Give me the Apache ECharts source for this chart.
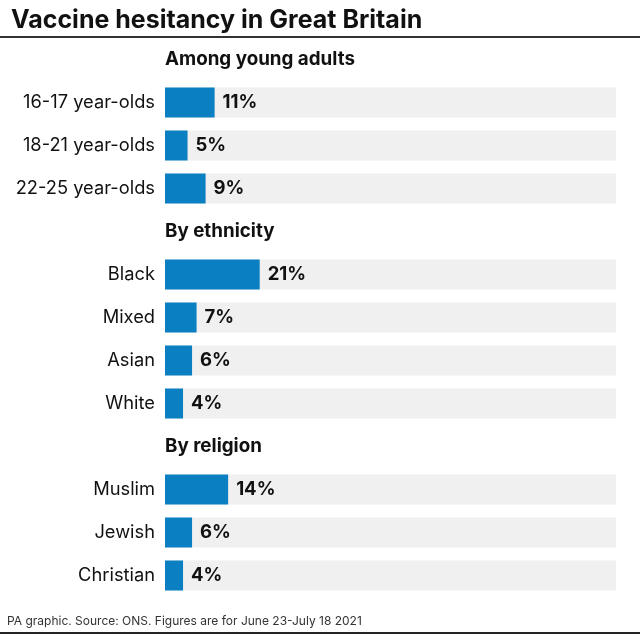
<!DOCTYPE html>
<html><head><meta charset="utf-8">
<script src="https://cdn.jsdelivr.net/npm/echarts@6/dist/echarts.min.js"></script>
<style>html,body{margin:0;padding:0;background:#fff}#c{width:640px;height:640px}</style>
</head><body><div id="c"></div>
<script>
const categories = ['Among young adults','16-17 year-olds','18-21 year-olds','22-25 year-olds','By ethnicity','Black','Mixed','Asian','White','By religion','Muslim','Jewish','Christian'];
const isHeader = [true,false,false,false,true,false,false,false,false,true,false,false,false];
const values = [null,11,5,9,null,21,7,6,4,null,14,6,4];
const axisMax = 100;
const FONT = 'Inter, "Liberation Sans", sans-serif';

const bgData = categories.map((c,i)=> isHeader[i] ? null : axisMax);
const headerData = categories.map((c,i)=> isHeader[i] ? 0 : null);

const chart = echarts.init(document.getElementById('c'));
chart.setOption({
  animation:false,
  backgroundColor:'#fff',
  title:{text:'Vaccine hesitancy in Great Britain',left:6,top:3,
    textStyle:{fontFamily:FONT,fontSize:25,fontWeight:'bold',color:'#111'}},
  grid:{left:165,right:24,top:38,bottom:43},
  xAxis:{type:'value',min:0,max:axisMax,show:false},
  yAxis:{type:'category',data:categories,inverse:true,
    axisLine:{show:false},axisTick:{show:false},
    axisLabel:{margin:10,fontFamily:FONT,fontSize:18.3,color:'#111',
      formatter:(v,i)=> isHeader[i] ? '' : v}},
  series:[
    {type:'bar',data:bgData,barWidth:30,barGap:'-100%',silent:true,
      itemStyle:{color:'#f0f0f0'},z:1},
    {type:'bar',data:values,barWidth:30,barGap:'-100%',
      itemStyle:{color:'#0a7fc1'},z:2,
      label:{show:true,position:'right',distance:8,formatter:p=>p.value+'%',
        fontFamily:FONT,fontSize:18.5,fontWeight:'bold',color:'#111'}},
    {type:'bar',data:headerData,barWidth:30,barGap:'-100%',z:3,
      itemStyle:{color:'rgba(0,0,0,0)'},
      label:{show:true,position:'right',distance:0,formatter:p=>categories[p.dataIndex],
        fontFamily:FONT,fontSize:18.8,fontWeight:'bold',color:'#111'}}
  ],
  graphic:[
    {type:'line',shape:{x1:0,y1:37,x2:640,y2:37},style:{stroke:'#333',lineWidth:2}},
    {type:'line',shape:{x1:0,y1:633,x2:640,y2:633},style:{stroke:'#222',lineWidth:2}},
    {type:'text',left:7,top:615,style:{text:'PA graphic. Source: ONS. Figures are for June 23-July 18 2021',
      fontFamily:FONT,fontSize:12,fill:'#333'}}
  ]
});
</script></body></html>
